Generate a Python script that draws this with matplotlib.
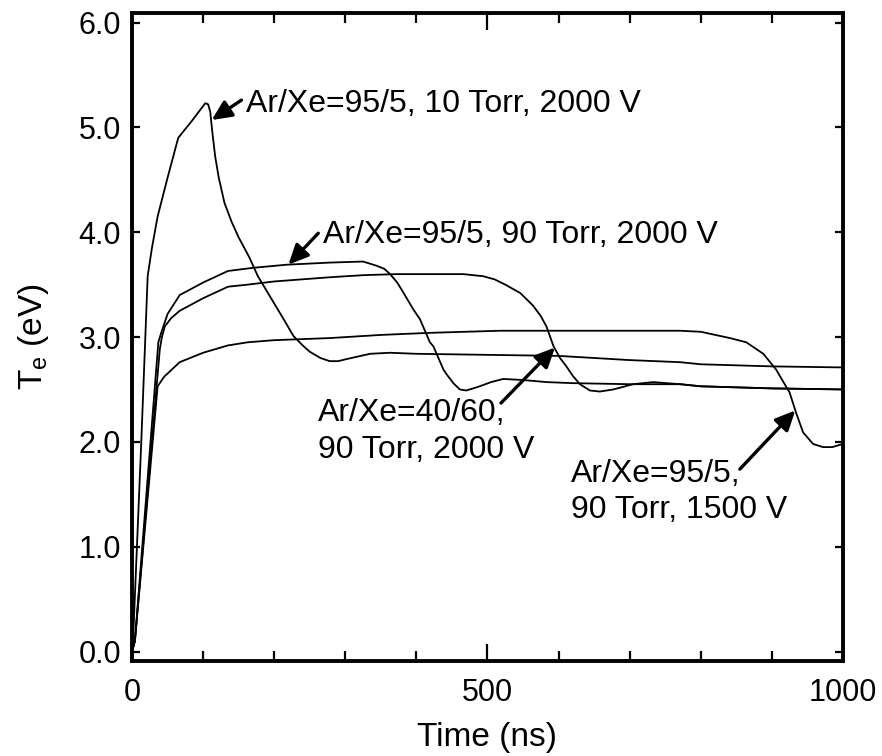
import numpy as np
import matplotlib
matplotlib.use("Agg")
import matplotlib.pyplot as plt
from matplotlib.ticker import MultipleLocator, FormatStrFormatter

plt.rcParams['font.family'] = ['Liberation Sans', 'DejaVu Sans']
plt.rcParams['mathtext.default'] = 'regular'

# Ar/Xe=95/5, 10 Torr, 2000 V
t_a = [0, 2, 13, 22, 28, 36, 50, 65, 84, 103, 107, 110, 113, 117, 122, 130, 140, 150,
       165, 177, 185, 200, 215, 227, 240, 250, 265, 278, 290, 302, 335, 363, 400, 500,
       600, 700, 771, 800, 900, 1000]
te_a = [0.0, 0.2, 2.0, 3.58, 3.85, 4.15, 4.52, 4.90, 5.06, 5.23, 5.22, 5.15, 4.95, 4.72,
        4.52, 4.28, 4.10, 3.95, 3.76, 3.58, 3.49, 3.32, 3.15, 3.01, 2.92, 2.86, 2.80, 2.77,
        2.77, 2.79, 2.84, 2.85, 2.84, 2.83, 2.82, 2.78, 2.76, 2.74, 2.72, 2.71]

# Ar/Xe=95/5, 90 Torr, 2000 V
t_b = [0, 4, 37, 41, 50, 67, 100, 135, 170, 218, 278, 325, 344, 355, 363, 373, 382, 396,
       405, 419, 424, 438, 443, 452, 461, 470, 480, 489, 505, 522, 550, 583, 620, 700,
       771, 800, 900, 1000]
te_b = [0.0, 0.1, 2.95, 3.04, 3.22, 3.40, 3.52, 3.63, 3.66, 3.69, 3.71, 3.72, 3.68, 3.65,
        3.60, 3.52, 3.42, 3.26, 3.17, 2.95, 2.91, 2.69, 2.64, 2.56, 2.50, 2.49, 2.51, 2.53,
        2.57, 2.60, 2.59, 2.57, 2.56, 2.55, 2.55, 2.53, 2.51, 2.50]

# Ar/Xe=40/60, 90 Torr, 2000 V
t_c = [0, 4, 39, 42, 46, 55, 67, 100, 135, 163, 200, 278, 325, 372, 419, 466, 494, 510,
       525, 546, 564, 575, 583, 593, 602, 611, 620, 630, 644, 658, 677, 705, 733, 771,
       800, 900, 1000]
te_c = [0.0, 0.1, 2.88, 3.00, 3.10, 3.18, 3.25, 3.37, 3.48, 3.50, 3.53, 3.57, 3.59, 3.60,
        3.60, 3.60, 3.58, 3.55, 3.50, 3.42, 3.30, 3.20, 3.10, 2.91, 2.80, 2.72, 2.63, 2.55,
        2.49, 2.48, 2.50, 2.55, 2.57, 2.55, 2.53, 2.51, 2.50]

# Ar/Xe=95/5, 90 Torr, 1500 V
t_d = [0, 4, 36, 45, 67, 100, 135, 163, 200, 278, 350, 419, 518, 600, 700, 771, 800,
       841, 864, 888, 906, 925, 934, 944, 958, 972, 985, 1000]
te_d = [0.0, 0.1, 2.53, 2.62, 2.76, 2.85, 2.92, 2.95, 2.97, 2.99, 3.02, 3.04, 3.06, 3.06,
        3.06, 3.06, 3.05, 2.99, 2.95, 2.84, 2.69, 2.47, 2.28, 2.09, 1.98, 1.95, 1.95, 1.98]

labels = ["Ar/Xe=95/5, 10 Torr, 2000 V",
          "Ar/Xe=95/5, 90 Torr, 2000 V",
          "Ar/Xe=40/60,\n90 Torr, 2000 V",
          "Ar/Xe=95/5,\n90 Torr, 1500 V"]
# baseline of the last text line
label_pos = [(160, 5.15), (268, 3.90), (262, 1.85), (617, 1.27)]
arrow_tail = [(154, 5.26), (262, 3.99), (519, 2.37), (855, 1.74)]
arrow_tip = [(112, 5.07), (220, 3.69), (595, 2.90), (933, 2.30)]

fig = plt.figure(figsize=(8.82, 7.56), dpi=100)
ax = fig.add_axes([0.1497, 0.1257, 0.806, 0.857])

for t, te in [(t_a, te_a), (t_b, te_b), (t_c, te_c), (t_d, te_d)]:
    ax.plot(t, te, color='k', lw=1.3)

for txt, pos, tail, tip in zip(labels, label_pos, arrow_tail, arrow_tip):
    ax.text(pos[0], pos[1], txt, fontsize=23, ha='left', va='baseline', linespacing=1.28)
    ax.annotate('', xy=tip, xytext=tail,
                arrowprops=dict(arrowstyle='-|>,head_length=0.6,head_width=0.28',
                                color='k', lw=2.4, shrinkA=0, shrinkB=0,
                                mutation_scale=20))

ax.set_xlim(0, 1000)
ax.set_ylim(-0.09, 6.09)
ax.xaxis.set_major_locator(MultipleLocator(500))
ax.xaxis.set_minor_locator(MultipleLocator(100))
ax.yaxis.set_major_locator(MultipleLocator(1.0))
ax.yaxis.set_major_formatter(FormatStrFormatter('%.1f'))

ax.tick_params(which='both', direction='in', top=True, right=True, width=1.6, labelsize=22)
ax.tick_params(axis='x', which='major', length=12, pad=12)
ax.tick_params(axis='x', which='minor', length=7)
ax.tick_params(axis='y', which='major', length=6, pad=8)
for s in ax.spines.values():
    s.set_linewidth(2.8)

ax.set_xlabel('Time (ns)', fontsize=24, labelpad=10)
ax.set_ylabel('T$_e$ (eV)', fontsize=24, labelpad=20)

fig.savefig('out.png', dpi=100)
